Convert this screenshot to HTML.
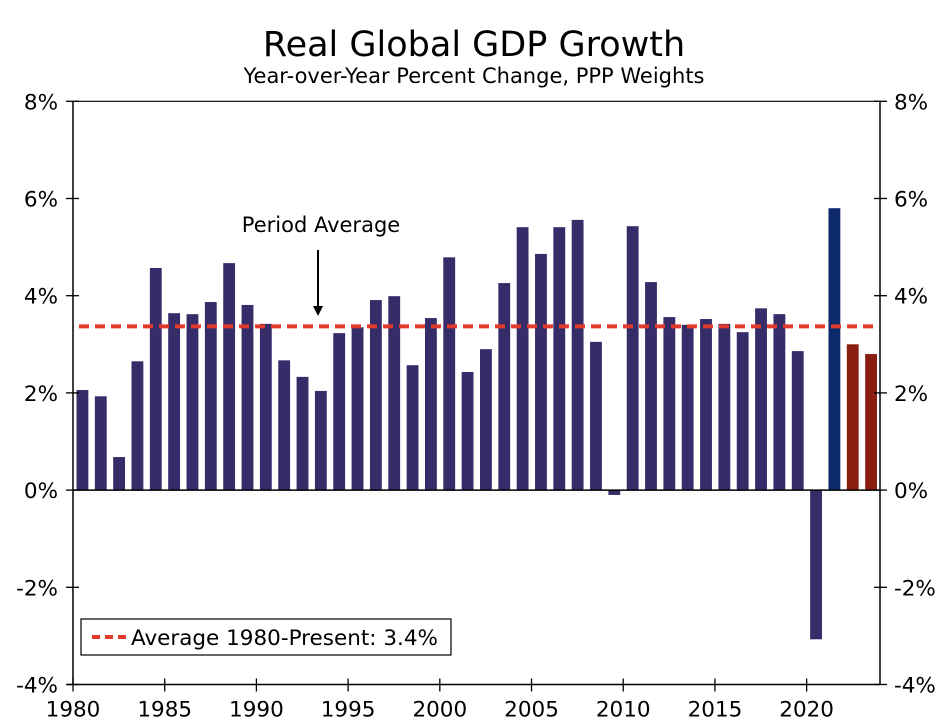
<!DOCTYPE html>
<html><head><meta charset="utf-8"><style>
html,body{margin:0;padding:0;background:#fff;}
svg{display:block;font-family:"DejaVu Sans","Liberation Sans",sans-serif;}
</style></head><body>
<svg id="chart" width="949" height="727" viewBox="0 0 949 727" xmlns="http://www.w3.org/2000/svg">
<text x="474" y="56" font-size="35" text-anchor="middle">Real Global GDP Growth</text>
<text x="474" y="83" font-size="21" text-anchor="middle">Year-over-Year Percent Change, PPP Weights</text>
<g id="bars"></g>
<g id="axes"></g>
<text x="321" y="232" font-size="21" text-anchor="middle">Period Average</text>
<line x1="318" y1="250" x2="318" y2="308" stroke="#000" stroke-width="2"/>
<polygon points="313,306 323,306 318,316" fill="#000"/>
<g>
<rect x="81" y="619" width="370" height="36" fill="#fff" stroke="#000" stroke-width="1.2"/>
<line x1="92" y1="637" x2="128" y2="637" stroke="#e03a2a" stroke-width="4" stroke-dasharray="8,5"/>
<text x="131" y="645" font-size="21.5">Average 1980-Present: 3.4%</text>
</g>
</svg>
<script>
const years = [1980,1981,1982,1983,1984,1985,1986,1987,1988,1989,1990,1991,1992,1993,1994,1995,1996,1997,1998,1999,2000,2001,2002,2003,2004,2005,2006,2007,2008,2009,2010,2011,2012,2013,2014,2015,2016,2017,2018,2019,2020,2021,2022,2023];
const growth = [2.06,1.93,0.68,2.65,4.57,3.64,3.62,3.87,4.67,3.81,3.42,2.67,2.33,2.04,3.23,3.35,3.91,3.99,2.57,3.54,4.79,2.43,2.90,4.26,5.41,4.86,5.41,5.56,3.05,-0.10,5.43,4.28,3.56,3.40,3.52,3.42,3.25,3.74,3.62,2.86,-3.07,5.80,3.00,2.80];
const seriesType = ["a","a","a","a","a","a","a","a","a","a","a","a","a","a","a","a","a","a","a","a","a","a","a","a","a","a","a","a","a","a","a","a","a","a","a","a","a","a","a","a","a","e","f","f"];
const average = [3.37];
const yTicks = [-4,-2,0,2,4,6,8];
const yTickLabels = ["-4%","-2%","0%","2%","4%","6%","8%"];
const xTickYears = [1980,1985,1990,1995,2000,2005,2010,2015,2020];

const NS="http://www.w3.org/2000/svg";
const L=73,R=880,T=101.3,B=684.5,yMin=-4,yMax=8;
const slot=(R-L)/years.length;
const y=v=>B-(v-yMin)/(yMax-yMin)*(B-T);
const x=yr=>L+(yr-years[0])*slot;
const colors={a:"#352c69",e:"#0c2a6b",f:"#8a1e10"};
function mk(tag,attrs,parent){const e=document.createElementNS(NS,tag);for(const k in attrs)e.setAttribute(k,attrs[k]);parent.appendChild(e);return e;}
const bars=document.getElementById('bars'),axes=document.getElementById('axes');
years.forEach((yr,i)=>{
  const v=growth[i];const y0=y(0),y1=y(v);
  const r=mk('rect',{x:x(yr)+3.5,y:Math.min(y0,y1),width:slot-6.5,height:Math.abs(y1-y0),fill:colors[seriesType[i]]},bars);
  
  
});
const avg=mk('line',{x1:L+6,x2:R-2,y1:y(average[0]),y2:y(average[0]),stroke:"#e03a2a","stroke-width":4,"stroke-dasharray":"10,6"},bars);


mk('line',{x1:L,y1:T,x2:L,y2:B,stroke:"#000","stroke-width":1.5},axes);
mk('line',{x1:R,y1:T,x2:R,y2:B,stroke:"#000","stroke-width":1.5},axes);
mk('line',{x1:L,y1:T,x2:R,y2:T,stroke:"#000","stroke-width":1.2},axes);
mk('line',{x1:L-6,y1:B,x2:R,y2:B,stroke:"#000","stroke-width":1.5},axes);
mk('line',{x1:L,y1:y(0),x2:R,y2:y(0),stroke:"#000","stroke-width":1.5},axes);
yTicks.forEach((t,i)=>{
  const yy=y(t);
  mk('line',{x1:L-7,x2:L+6,y1:yy,y2:yy,stroke:"#000","stroke-width":1.3},axes);
  mk('line',{x1:R-6,x2:R+7,y1:yy,y2:yy,stroke:"#000","stroke-width":1.3},axes);
  const a=mk('text',{x:L-15,y:yy+8,"font-size":21.5,"text-anchor":"end"},axes);a.textContent=yTickLabels[i];
  
  
  const b=mk('text',{x:R+14,y:yy+8,"font-size":21.5,"text-anchor":"start"},axes);b.textContent=yTickLabels[i];
  
  
});
xTickYears.forEach(yr=>{
  const xx=x(yr);
  mk('line',{x1:xx,x2:xx,y1:B-6,y2:B+7,stroke:"#000","stroke-width":1.3},axes);
  const t=mk('text',{x:xx,y:B+32,"font-size":21.5,"text-anchor":"middle"},axes);t.textContent=yr;
  
  
});
</script>
</body></html>
